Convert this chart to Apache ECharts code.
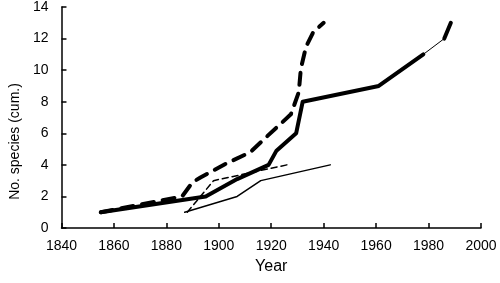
<!DOCTYPE html>
<html>
<head>
<meta charset="utf-8">
<script src="https://cdn.jsdelivr.net/npm/echarts@6/dist/echarts.min.js"></script>
<style>
  html, body { margin: 0; padding: 0; background: #fff; }
  #chart { width: 500px; height: 283px; }
</style>
</head>
<body>
<div id="chart"></div>
<script>
// thick solid line (the stretch 1978-1986 is drawn thin in the original)
const thickSolid = [[1855, 1], [1895, 2], [1907, 3.1], [1919, 4], [1922, 4.9], [1929.5, 6], [1932, 8], [1961, 9], [1978, 11]]
const thinGap = [[1978, 11], [1986, 12]]
const thickSolidEnd = [[1986, 12], [1988.5, 13]]
// thick dashed line
const thickDashed = [[1855, 1], [1886, 2], [1890, 2.9], [1893, 3.2], [1903, 4.1], [1912, 4.8], [1919, 5.9], [1927.5, 7.2], [1930.5, 8.6], [1931.3, 10.1], [1933.3, 11.5], [1936, 12.4], [1940, 13]]
// thin dashed line
const thinDashed = [[1888, 1], [1898, 3], [1926, 4]]
// thin solid line
const thinSolid = [[1887, 1], [1907, 2], [1916, 3], [1942.5, 4]]

const chart = echarts.init(document.getElementById('chart'))

const font = 'Liberation Sans, Arial, Helvetica, sans-serif'

const lineSeries = (data, width, type) => {
  return {
    type: 'line',
    data: data,
    symbol: 'none',
    silent: true,
    lineStyle: { color: '#000', width: width, type: type, cap: 'round', join: 'round' }
  }
}

const option = {
  animation: false,
  grid: { left: 60, right: 19, top: 4, bottom: 55 },
  xAxis: {
    type: 'value',
    min: 1840,
    max: 2000,
    interval: 20,
    name: 'Year',
    nameLocation: 'middle',
    nameGap: 31,
    nameTextStyle: { color: '#000', fontSize: 16, fontFamily: font },
    axisLine: { lineStyle: { color: '#000', width: 1.5 } },
    axisTick: { inside: true, length: 5, lineStyle: { color: '#000', width: 1.5 } },
    axisLabel: { color: '#000', fontSize: 14, fontFamily: font, margin: 11, formatter: value => String(value) },
    splitLine: { show: false }
  },
  yAxis: {
    type: 'value',
    min: 0,
    max: 14,
    interval: 2,
    name: 'No. species (cum.)',
    nameLocation: 'middle',
    nameGap: 38,
    // extra right padding pushes the rotated label down, as in the original
    nameTextStyle: { color: '#000', fontSize: 14, fontFamily: font, padding: [0, 48, 0, 0] },
    axisLine: { show: true, lineStyle: { color: '#000', width: 1.5 } },
    axisTick: { show: true, inside: true, length: 5, lineStyle: { color: '#000', width: 1.5 } },
    axisLabel: { color: '#000', fontSize: 14, fontFamily: font, margin: 13 },
    splitLine: { show: false }
  },
  series: [
    lineSeries(thinSolid, 1.5, 'solid'),
    lineSeries(thinDashed, 1.5, [6, 4]),
    lineSeries(thickDashed, 4, [12, 9]),
    lineSeries(thickSolid, 4, 'solid'),
    lineSeries(thinGap, 1, 'solid'),
    lineSeries(thickSolidEnd, 4, 'solid')
  ]
}

chart.setOption(option)
</script>
</body>
</html>
